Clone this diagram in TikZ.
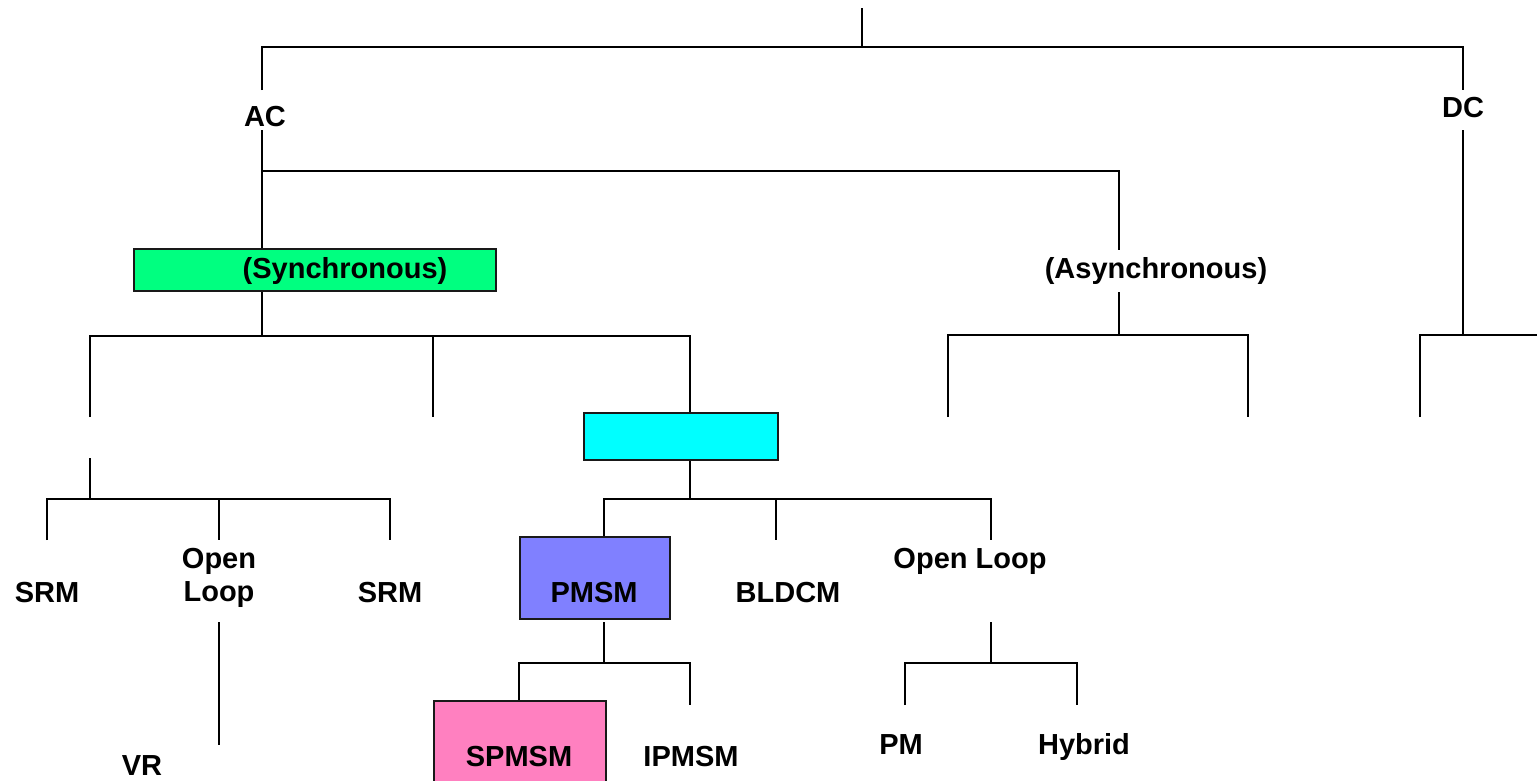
\documentclass[tikz,border=0pt]{standalone}
\usepackage{fontspec}
\setmainfont{Liberation Sans}
\definecolor{syncgreen}{HTML}{00FF80}
\definecolor{pmcyan}{HTML}{00FFFF}
\definecolor{pmsmblue}{HTML}{8080FF}
\definecolor{spmsmpink}{HTML}{FF80C0}
\begin{document}
\begin{tikzpicture}[x=1pt,y=-1pt,
  ln/.style={line width=1.4pt,line join=miter},
  lbl/.style={anchor=base,inner sep=0pt,font=\fontsize{29}{33}\selectfont\bfseries},
  box/.style={draw=black!90,line width=1.8pt,inner sep=0pt,anchor=north west}]
\useasboundingbox (0,0) rectangle (1537,780);
% boxes
\node[box,minimum width=362pt,minimum height=42pt,fill=syncgreen] (sync) at (133,248) {};
\node[box,minimum width=194pt,minimum height=47pt,fill=pmcyan] (pm) at (583,412) {};
\node[box,minimum width=150pt,minimum height=82pt,fill=pmsmblue] (pmsm) at (519,536) {};
\node[box,minimum width=172pt,minimum height=100pt,fill=spmsmpink] (spmsm) at (433,700) {};
% labels
\node[lbl] (ac) at (265,126) {AC};
\node[lbl] (dc) at (1463,117) {DC};
\node[lbl] (synclbl) at (345,278) {(Synchronous)};
\node[lbl] (async) at (1156,278) {(Asynchronous)};
\node[lbl] (srma) at (47,602) {SRM};
\node[lbl,anchor=north,align=center] (opena) at (219,548) {Open\\Loop};
\node[lbl] (srmb) at (390,602) {SRM};
\node[lbl] (vr) at (142,775) {VR};
\node[lbl] (pmsmlbl) at (594,602) {PMSM};
\node[lbl] (bldcm) at (788,602) {BLDCM};
\node[lbl] (openb) at (970,568) {Open Loop};
\node[lbl] (pmlbl) at (901,754) {PM};
\node[lbl] (hybrid) at (1084,754) {Hybrid};
\node[lbl] (spmsmlbl) at (519,766) {SPMSM};
\node[lbl] (ipmsm) at (691,766) {IPMSM};
% coordinates
\coordinate (root) at (862,8);
\coordinate (j0) at (862,47);
\coordinate (ac0) at (262,47);
\coordinate (ac1) at (262,90);
\coordinate (dc0) at (1463,47);
\coordinate (dc1) at (1463,90);
\coordinate (ac2) at (262,130);
\coordinate (acj) at (262,171);
\coordinate (asy0) at (1119,171);
\coordinate (asy1) at (1119,250);
\coordinate (asy2) at (1119,292);
\coordinate (asy3) at (1119,335);
\coordinate (asl0) at (948,335);
\coordinate (asl1) at (948,417);
\coordinate (asr0) at (1248,335);
\coordinate (asr1) at (1248,417);
\coordinate (dc2) at (1463,130);
\coordinate (dc3) at (1463,335);
\coordinate (dcl0) at (1420,335);
\coordinate (dcl1) at (1420,417);
\coordinate (dcr) at (1537,335);
\coordinate (sy1) at (262,336);
\coordinate (syl0) at (90,336);
\coordinate (syl1) at (90,417);
\coordinate (sym0) at (433,336);
\coordinate (sym1) at (433,417);
\coordinate (syr0) at (690,336);
\coordinate (lf0) at (90,458);
\coordinate (lf1) at (90,499);
\coordinate (lfa0) at (47,499);
\coordinate (lfa1) at (47,540);
\coordinate (lfb0) at (219,499);
\coordinate (lfb1) at (219,540);
\coordinate (lfc0) at (390,499);
\coordinate (lfc1) at (390,540);
\coordinate (oa0) at (219,622);
\coordinate (oa1) at (219,745);
\coordinate (pm1) at (690,499);
\coordinate (pma0) at (604,499);
\coordinate (pmb0) at (776,499);
\coordinate (pmb1) at (776,540);
\coordinate (pmc0) at (991,499);
\coordinate (pmc1) at (991,540);
\coordinate (ps0) at (604,622);
\coordinate (ps1) at (604,663);
\coordinate (psa0) at (519,663);
\coordinate (psb0) at (690,663);
\coordinate (psb1) at (690,705);
\coordinate (ob0) at (991,622);
\coordinate (ob1) at (991,663);
\coordinate (oba0) at (905,663);
\coordinate (oba1) at (905,705);
\coordinate (obb0) at (1077,663);
\coordinate (obb1) at (1077,705);
% connectors
\draw[ln] (root) -- (j0);
\draw[ln] (ac1) -- (ac0) -- (dc0) -- (dc1);
\draw[ln] (ac2) -- (ac2 |- sync.north);
\draw[ln] (acj) -- (asy0) -- (asy1);
\draw[ln] (asy2) -- (asy3);
\draw[ln] (asl1) -- (asl0) -- (asr0) -- (asr1);
\draw[ln] (dc2) -- (dc3);
\draw[ln] (dcl1) -- (dcl0) -- (dcr);
\draw[ln] (sync.south -| sy1) -- (sy1);
\draw[ln] (syl1) -- (syl0) -- (syr0) -- (syr0 |- pm.north);
\draw[ln] (sym0) -- (sym1);
\draw[ln] (lf0) -- (lf1);
\draw[ln] (lfa1) -- (lfa0) -- (lfc0) -- (lfc1);
\draw[ln] (lfb0) -- (lfb1);
\draw[ln] (oa0) -- (oa1);
\draw[ln] (pm.south -| pm1) -- (pm1);
\draw[ln] (pma0 |- pmsm.north) -- (pma0) -- (pmc0) -- (pmc1);
\draw[ln] (pmb0) -- (pmb1);
\draw[ln] (ps0) -- (ps1);
\draw[ln] (psa0 |- spmsm.north) -- (psa0) -- (psb0) -- (psb1);
\draw[ln] (ob0) -- (ob1);
\draw[ln] (oba1) -- (oba0) -- (obb0) -- (obb1);
\end{tikzpicture}
\end{document}
